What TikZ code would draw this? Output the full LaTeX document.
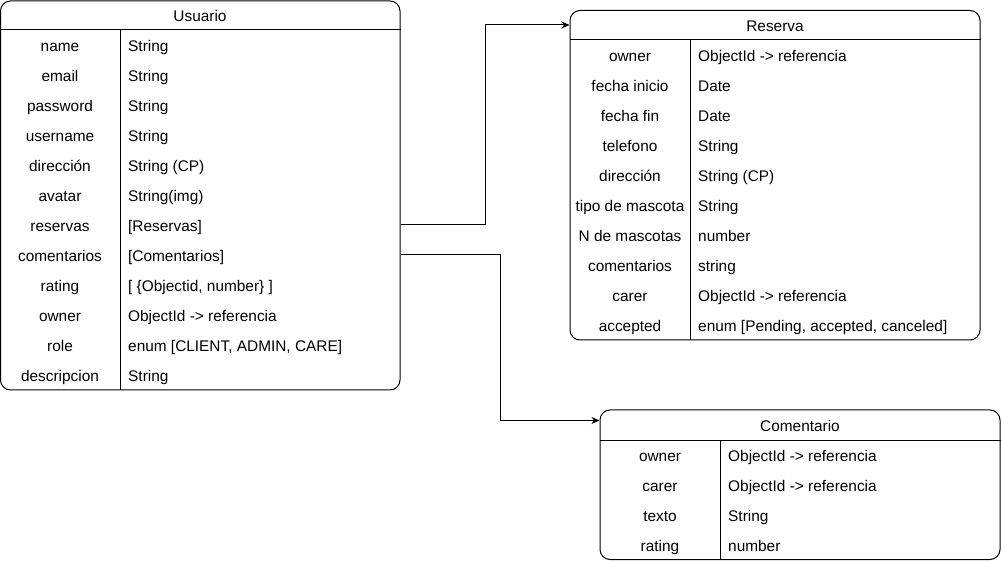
\documentclass[tikz,border=0pt]{standalone}
\usepackage{fontspec}
\setmainfont{Liberation Sans}
\usetikzlibrary{arrows.meta,calc}
\begin{document}
\begin{tikzpicture}[x=1pt,y=-1pt,
  font=\fontsize{15.4}{18}\selectfont,
  tbl/.style={draw, line width=1pt, rounded corners=10pt, inner sep=0pt, minimum width=0pt, minimum height=0pt},
  sep/.style={line width=1pt},
  cell/.style={inner sep=0pt, text height=13pt, text depth=0pt},
  key/.style={cell, anchor=center},
  val/.style={cell, anchor=west},
  conn/.style={line width=1pt, -{Stealth[length=8pt,width=7pt,inset=2.5pt]}}]
\useasboundingbox (0,0) rectangle (1002,561);

% ---------- Usuario ----------
\node[tbl, minimum width=399.5pt, minimum height=389pt] (usuario) at (200.25,195.5) {};
\draw[sep] (usuario.west |- 0,30) -- (usuario.east |- 0,30);
\draw[sep] (120,30) -- (120,390);
\node[key] (utitle) at (200,15.5) {Usuario};
\foreach \k/\v [count=\i] in {name/String, email/String, password/String, username/String,
  dirección/{String (CP)}, avatar/{String(img)}, reservas/{[Reservas]}, comentarios/{[Comentarios]},
  rating/{[ \{Objectid, number\} ]}, owner/{ObjectId -> referencia},
  role/{enum [CLIENT, ADMIN, CARE]}, descripcion/String}{
  \node[key] (uk\i) at (60,{15+30*\i}) {\k};
  \node[val] (uv\i) at (128,{15+30*\i}) {\v};
}

% ---------- Reserva ----------
\node[tbl, minimum width=410pt, minimum height=329.5pt] (reserva) at (775,175.25) {};
\draw[sep] (reserva.west |- 0,40) -- (reserva.east |- 0,40);
\draw[sep] (690,40) -- (690,340);
\node[key] (rtitle) at (775,25) {Reserva};
\foreach \k/\v [count=\i] in {owner/{ObjectId -> referencia}, fecha inicio/Date, fecha fin/Date,
  telefono/String, dirección/{String (CP)}, tipo de mascota/String, N de mascotas/number,
  comentarios/string, carer/{ObjectId -> referencia}, accepted/{enum [Pending, accepted, canceled]}}{
  \node[key] (rk\i) at (630,{25+30*\i}) {\k};
  \node[val] (rv\i) at (698,{25+30*\i}) {\v};
}

% ---------- Comentario ----------
\node[tbl, minimum width=400pt, minimum height=149.5pt] (comentario) at (800,484.75) {};
\draw[sep] (comentario.west |- 0,440) -- (comentario.east |- 0,440);
\draw[sep] (720,440) -- (720,559.5);
\node[key] (ctitle) at (800,425) {Comentario};
\foreach \k/\v [count=\i] in {owner/{ObjectId -> referencia}, carer/{ObjectId -> referencia},
  texto/String, rating/number}{
  \node[key] (ck\i) at (660,{425+30*\i}) {\k};
  \node[val] (cv\i) at (728,{425+30*\i}) {\v};
}

% ---------- connectors ----------
\coordinate (cin) at ($(comentario.north west)+(0,11)$);
\draw[conn] (usuario.east |- uv7) -- ++(85,0) |- (reserva.west |- rtitle);
\draw[conn] (usuario.east |- uv8) -- ++(100,0) |- (cin);
\end{tikzpicture}
\end{document}
